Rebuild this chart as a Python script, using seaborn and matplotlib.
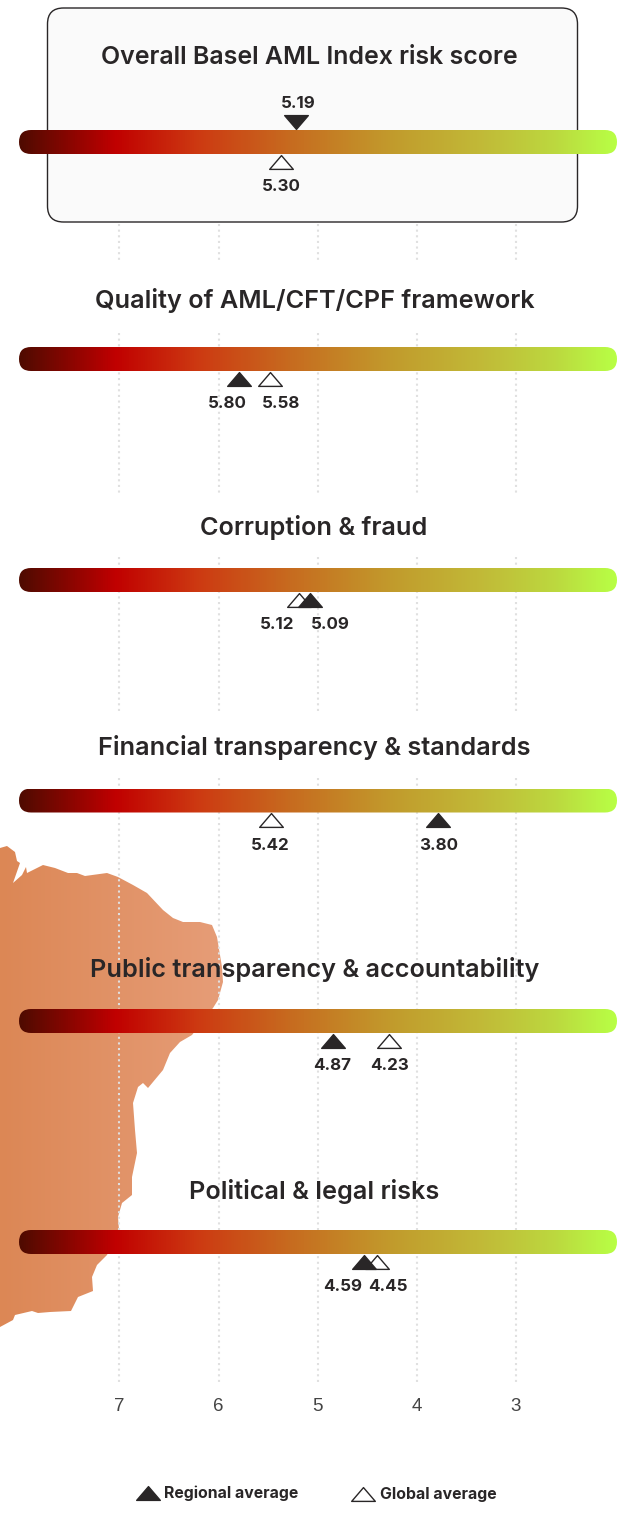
import numpy as np
import pandas as pd
import seaborn as sns
from matplotlib import pyplot as plt
from matplotlib.colors import LinearSegmentedColormap
from matplotlib.patches import FancyBboxPatch, Polygon
from matplotlib.path import Path

sns.set_style("white")
plt.rcParams["font.family"] = ["Inter", "DejaVu Sans"]

categories = [
    "Overall Basel AML Index risk score",
    "Quality of AML/CFT/CPF framework",
    "Corruption & fraud",
    "Financial transparency & standards",
    "Public transparency & accountability",
    "Political & legal risks",
]
# printed values
regional_scores = [5.19, 5.80, 5.09, 3.80, 4.87, 4.59]
global_scores = [5.30, 5.58, 5.12, 5.42, 4.23, 4.45]
# where the triangles actually sit on the scale in the picture
regional_placed = [5.22, 5.79, 5.08, 3.79, 4.85, 4.53]
global_placed = [5.37, 5.48, 5.19, 5.47, 4.28, 4.40]
ticks = [7, 6, 5, 4, 3]

W, H = 620, 1517
INK = "#292627"

# layout, in pixels of the picture
rows = [142, 359, 580, 800.5, 1021, 1242]
title_y = [57, 300, 527, 747, 969, 1192]
title_x = [309, 314.5, 314, 314, 314.5, 314]
title_size = [17.95, 18.2, 18.2, 18.2, 18.2, 18.2]
reg_dx = [2, -12.5, 20.7, 0.7, 0, -22]
glob_dx = [0, 11, -22, -1, 0, 10.6]
grid_spans = [(224, 263), (333, 494), (557, 713), (778, 1385)]
coast = [(0, 848), (7, 846), (15, 852), (17, 861), (20, 863), (13, 883), (22, 875), (26, 867),
         (27, 873), (43, 865), (55, 868), (68, 873), (77, 873), (85, 876), (107, 873), (118, 877),
         (133, 885), (147, 893), (163, 910), (173, 918), (183, 922), (200, 922), (212, 925),
         (217, 937), (222, 967), (223, 982), (218, 1000), (213, 1008), (192, 1035), (180, 1042),
         (170, 1053), (163, 1070), (148, 1088), (143, 1083), (138, 1087), (133, 1103), (135, 1130),
         (137, 1153), (132, 1177), (132, 1195), (122, 1203), (118, 1217), (119, 1230), (107, 1255),
         (97, 1265), (92, 1277), (93, 1291), (78, 1297), (71, 1311), (50, 1312), (38, 1313),
         (32, 1311), (15, 1315), (13, 1320), (0, 1327)]


def score_at(px):
    return 7 - (px - 119.5) / 99.125


bar_cmap = LinearSegmentedColormap.from_list("risk", [
    (0.0, "#4f0b00"), (0.16, "#c00000"), (0.30, "#cd3a12"), (0.45, "#c76a1f"),
    (0.62, "#c29a2c"), (0.78, "#c1bb38"), (0.90, "#bcd93f"), (1.0, "#b8ff45")])
map_cmap = LinearSegmentedColormap.from_list("land", ["#dc8755", "#e69d78"])

tri_up = Path([(-12, -7), (12, -7), (0, 7), (-12, -7)], closed=True)
tri_down = Path([(-12, 7), (12, 7), (0, -7), (-12, 7)], closed=True)

fig = plt.figure(figsize=(W / 100, H / 100), dpi=100, facecolor="white")

# back layer in pixels: land shape and the highlight box
back = fig.add_axes([0, 0, 1, 1])
back.set_axis_off()
land = back.imshow(np.linspace(0, 1, 256)[None, :], cmap=map_cmap, aspect="auto",
                   extent=(0, 223, 1330, 840), zorder=1)
land.set_clip_path(Polygon(coast, closed=True, transform=back.transData))
back.add_patch(FancyBboxPatch((47.5, 8), 530, 214, boxstyle="round,pad=0,rounding_size=16",
                              fc="#fafafa", ec=INK, lw=1, zorder=2))
back.set_xlim(0, W)
back.set_ylim(H, 0)

# front layer: score scale on x, picture rows on y
ax = fig.add_axes([0, 0, 1, 1], sharey=back)
ax.patch.set_alpha(0)
ax.set_frame_on(False)

for top, bottom in grid_spans:
    ax.vlines(ticks, top, bottom, color="#e0e0e0", lw=1.5, linestyles=(0, (1, 1.7)), zorder=1)

for y in rows:
    bar = ax.imshow(np.linspace(0, 1, 512)[None, :], cmap=bar_cmap, aspect="auto", zorder=2,
                    extent=(score_at(19), score_at(617), y + 12, y - 12))
    bar.set_clip_path(FancyBboxPatch((19, y - 12), 598, 24, boxstyle="round,pad=0,rounding_size=12",
                                     transform=back.transData))

marks = pd.DataFrame({"regional": regional_placed, "global": global_placed, "row": rows})
marks["global_y"] = marks["row"] + 19.5
marks["regional_y"] = marks["row"] + 19.5


def triangles(axes, x, y, marker, fill, zorder):
    sns.scatterplot(x=x, y=y, marker=marker, s=290, color=fill, edgecolor=INK, linewidth=1,
                    legend=False, zorder=zorder, ax=axes)
    axes.collections[-1].set_joinstyle("round")


triangles(ax, marks["global"], marks["global_y"], tri_up, "white", 3)
triangles(ax, marks["regional"][1:], marks["regional_y"][1:], tri_up, INK, 4)
triangles(ax, marks["regional"][:1], marks["row"][:1] - 20.5, tri_down, INK, 4)

for i, name in enumerate(categories):
    ax.text(title_x[i], title_y[i], name, ha="center", va="center", fontsize=title_size[i],
            fontweight="semibold", color=INK, zorder=5, transform=back.transData)
    reg_y = rows[i] - 38.5 if i == 0 else rows[i] + 44.5
    ax.annotate(f"{regional_scores[i]:.2f}", (regional_placed[i], reg_y), xytext=(reg_dx[i] * 0.72, 0),
                textcoords="offset points", ha="center", va="center", fontsize=12.2,
                fontweight="bold", color=INK, zorder=5)
    ax.annotate(f"{global_scores[i]:.2f}", (global_placed[i], rows[i] + 44.5), xytext=(glob_dx[i] * 0.72, 0),
                textcoords="offset points", ha="center", va="center", fontsize=12.2,
                fontweight="bold", color=INK, zorder=5)

# legend row
sns.scatterplot(x=[147.5], y=[1492.5], marker=tri_up, s=290, color=INK, edgecolor=INK, linewidth=1,
                legend=False, zorder=5, ax=back)
back.collections[-1].set_joinstyle("round")
sns.scatterplot(x=[363], y=[1493.5], marker=tri_up, s=290, color="white", edgecolor=INK, linewidth=1,
                legend=False, zorder=5, ax=back)
back.collections[-1].set_joinstyle("round")
back.text(164, 1493, "Regional average", ha="left", va="center", fontsize=11.4, fontweight="bold", color=INK)
back.text(380, 1494, "Global average", ha="left", va="center", fontsize=11.4, fontweight="bold", color=INK)
back.set_xlim(0, W)
back.set_ylim(H, 0)
back.set_xlabel("")
back.set_ylabel("")

ax.set_xlim(score_at(0), score_at(W))
ax.set_ylim(H, 0)
ax.set_xticks(ticks)
ax.set_xticklabels([str(t) for t in ticks], family=["Liberation Sans"], fontsize=13.5, color="#444444")
ax.tick_params(axis="x", length=0, pad=-86)
ax.tick_params(axis="y", left=False, labelleft=False)
ax.set_xlabel("")
ax.set_ylabel("")

plt.savefig("out.png", dpi=100)
plt.close()
